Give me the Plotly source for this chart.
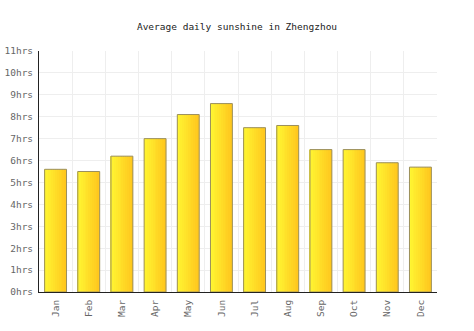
import plotly.graph_objects as go

months = ["Jan", "Feb", "Mar", "Apr", "May", "Jun", "Jul", "Aug", "Sep", "Oct", "Nov", "Dec"]
sunshine = [5.6, 5.5, 6.2, 7.0, 8.1, 8.6, 7.5, 7.6, 6.5, 6.5, 5.9, 5.7]
tick_vals = list(range(0, 12))
tick_text = [f"{v}hrs" for v in tick_vals]

FONT = "DejaVu Sans Mono, monospace"
BAR_W = 0.66
N = 12

def lerp(c1, c2, t):
    return "rgb(%d,%d,%d)" % tuple(round(a + (b - a) * t) for a, b in zip(c1, c2))

c_left = (255, 245, 50)
c_right = (255, 200, 30)

fig = go.Figure()
for i in range(N):
    t = i / (N - 1)
    fig.add_trace(go.Bar(
        x=months, y=sunshine,
        width=BAR_W / N + 0.004,
        offset=-BAR_W / 2 + i * BAR_W / N,
        marker=dict(color=lerp(c_left, c_right, t), line=dict(width=0)),
        hoverinfo="skip", showlegend=False,
    ))
fig.add_trace(go.Bar(
    x=months, y=sunshine, width=BAR_W,
    marker=dict(color="rgba(0,0,0,0)", line=dict(color="#9b8f5e", width=1)),
    showlegend=False,
))

fig.update_layout(
    barmode="overlay",
    width=474, height=331,
    margin=dict(l=39, r=37, t=51, b=39),
    paper_bgcolor="white", plot_bgcolor="white",
    title=dict(text="Average daily sunshine in Zhengzhou", x=0.5, xanchor="center",
               y=1 - 27 / 331, yanchor="middle",
               font=dict(family=FONT, size=9.5, color="#222")),
    font=dict(family=FONT, size=9.5, color="#555"),
    xaxis=dict(tickangle=-90, showline=True, linecolor="#222", linewidth=1,
               showgrid=False, ticks="", automargin=False, ticklabelstandoff=3,
               tickfont=dict(size=9.5, color="#666")),
    yaxis=dict(range=[0, 11], tickvals=tick_vals, ticktext=tick_text,
               showline=True, linecolor="#222", linewidth=1,
               gridcolor="#eeeeee", gridwidth=1, zeroline=False, automargin=False,
               ticks="", ticklabelstandoff=3, tickfont=dict(size=9.5, color="#666")),
)
fig.add_trace(go.Scatter(x=[None], y=[None], xaxis="x2", showlegend=False, hoverinfo="skip"))
fig.update_layout(xaxis2=dict(overlaying="x", range=[0, 12], tickvals=list(range(1, 12)),
                              showticklabels=False, showgrid=True, gridcolor="#eeeeee",
                              zeroline=False, showline=False, ticks="", automargin=False,
                              layer="below traces"))
fig.write_html("out.html")
